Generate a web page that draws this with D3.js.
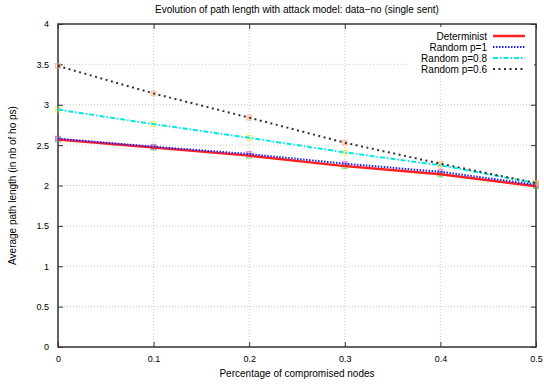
<!DOCTYPE html>
<html><head><meta charset="utf-8">
<script src="https://cdn.jsdelivr.net/npm/d3@7"></script>
<style>body{margin:0;background:#fff}text{font-family:"Liberation Sans",Arial,sans-serif}</style>
</head><body><svg id="c" width="544" height="385"></svg>
<script>
const xVals = [0, 0.1, 0.2, 0.3, 0.4, 0.5];
const determinist = [2.57, 2.47, 2.37, 2.24, 2.14, 1.99];
const randomP1 = [2.58, 2.48, 2.39, 2.27, 2.17, 2.01];
const randomP08 = [2.94, 2.76, 2.59, 2.41, 2.25, 2.03];
const randomP06 = [3.48, 3.14, 2.84, 2.53, 2.27, 2.03];
const xTicks = [0, 0.1, 0.2, 0.3, 0.4, 0.5];
const yTicks = [0, 0.5, 1, 1.5, 2, 2.5, 3, 3.5, 4];
const seriesNames = ["Determinist", "Random p=1", "Random p=0.8", "Random p=0.6"];

const svg = d3.select("#c");
const L = 58, R = 536, T = 24, B = 347;
const x = d3.scaleLinear().domain([0, 0.5]).range([L, R]);
const y = d3.scaleLinear().domain([0, 4]).range([B, T]);

svg.append("text").attr("x", 297).attr("y", 13).attr("text-anchor", "middle")
  .attr("font-size", 10).attr("fill", "#000").text("Evolution of path length with attack model: data\u2212no (single sent)");

const g = svg.append("g");
g.selectAll(".vg").data(xTicks.slice(1, -1)).enter().append("line")
  .attr("x1", d => x(d)).attr("x2", d => x(d)).attr("y1", T).attr("y2", B)
  .attr("stroke", "#c8c8c8").attr("stroke-width", 1).attr("stroke-dasharray", "1,2");
g.selectAll(".hg").data(yTicks.slice(1, -1)).enter().append("line")
  .attr("x1", L).attr("x2", R).attr("y1", d => y(d)).attr("y2", d => y(d))
  .attr("stroke", "#c8c8c8").attr("stroke-width", 1).attr("stroke-dasharray", "1,2");

const xAxis = d3.axisBottom(x).tickValues(xTicks).tickSize(-5).tickPadding(9).tickFormat(d => d === 0 ? "0" : d3.format(".1f")(d));
const yAxis = d3.axisLeft(y).tickValues(yTicks).tickSize(-5).tickPadding(9).tickFormat(d => d);
const xa = svg.append("g").attr("transform", `translate(0,${B})`).call(xAxis);
const ya = svg.append("g").attr("transform", `translate(${L},0)`).call(yAxis);
const xt = svg.append("g").attr("transform", `translate(0,${T})`).call(d3.axisTop(x).tickValues(xTicks).tickSize(-5).tickFormat(""));
const yr = svg.append("g").attr("transform", `translate(${R},0)`).call(d3.axisRight(y).tickValues(yTicks).tickSize(-5).tickFormat(""));
[xa, ya, xt, yr].forEach(a => {
  a.select(".domain").remove();
  a.selectAll("line").attr("stroke", "#333");
  a.selectAll("text").attr("font-size", 9).attr("fill", "#000").attr("font-family", "Liberation Sans, Arial, sans-serif");
});
svg.append("rect").attr("x", L).attr("y", T).attr("width", R - L).attr("height", B - T)
  .attr("fill", "none").attr("stroke", "#333").attr("stroke-width", 1.5);

svg.append("text").attr("x", 297).attr("y", 377).attr("text-anchor", "middle").attr("font-size", 10).text("Percentage of compromised nodes");
svg.append("text").attr("transform", `translate(16,${(T + B) / 2}) rotate(-90)`).attr("text-anchor", "middle")
  .attr("font-size", 10).text("Average path length (in nb of ho ps)");

svg.append("rect").attr("x", 408).attr("y", 27).attr("width", 126).attr("height", 47).attr("fill", "#fff");

const styles = [
  {c: "#ff2020", w: 2.5, dash: null, m: "#3c3"},
  {c: "#2020ff", w: 2, dash: "1.5,1.5", m: "#e040e0"},
  {c: "#00e8e8", w: 2, dash: "5,2,1.5,2", m: "#e8e830"},
  {c: "#333", w: 2, dash: "2,3.5", m: "#ff9a70"}
];
const data = [determinist, randomP1, randomP08, randomP06];
const line = d3.line().x((d, i) => x(xVals[i])).y(d => y(d));
data.forEach((s, k) => {
  svg.selectAll(null).data(s).enter().append("rect")
    .attr("x", (d, i) => x(xVals[i]) - 2.5).attr("y", d => y(d) - 2.5).attr("width", 5).attr("height", 5)
    .attr("fill", styles[k].m).attr("fill-opacity", 0.35).attr("stroke", styles[k].m).attr("stroke-width", 1).attr("stroke-opacity", 0.5);
});
[0, 1, 2, 3].forEach(k => {
  svg.append("path").datum(data[k]).attr("d", line).attr("fill", "none")
    .attr("stroke", styles[k].c).attr("stroke-width", styles[k].w)
    .attr("stroke-dasharray", styles[k].dash);
});

seriesNames.forEach((n, k) => {
  const yy = 36 + k * 11;
  svg.append("text").attr("x", 487).attr("y", yy + 3.5).attr("text-anchor", "end").attr("font-size", 10).text(n);
  svg.append("line").attr("x1", 493).attr("x2", 525).attr("y1", yy).attr("y2", yy)
    .attr("stroke", styles[k].c).attr("stroke-width", styles[k].w).attr("stroke-dasharray", styles[k].dash);
});
</script></body></html>
